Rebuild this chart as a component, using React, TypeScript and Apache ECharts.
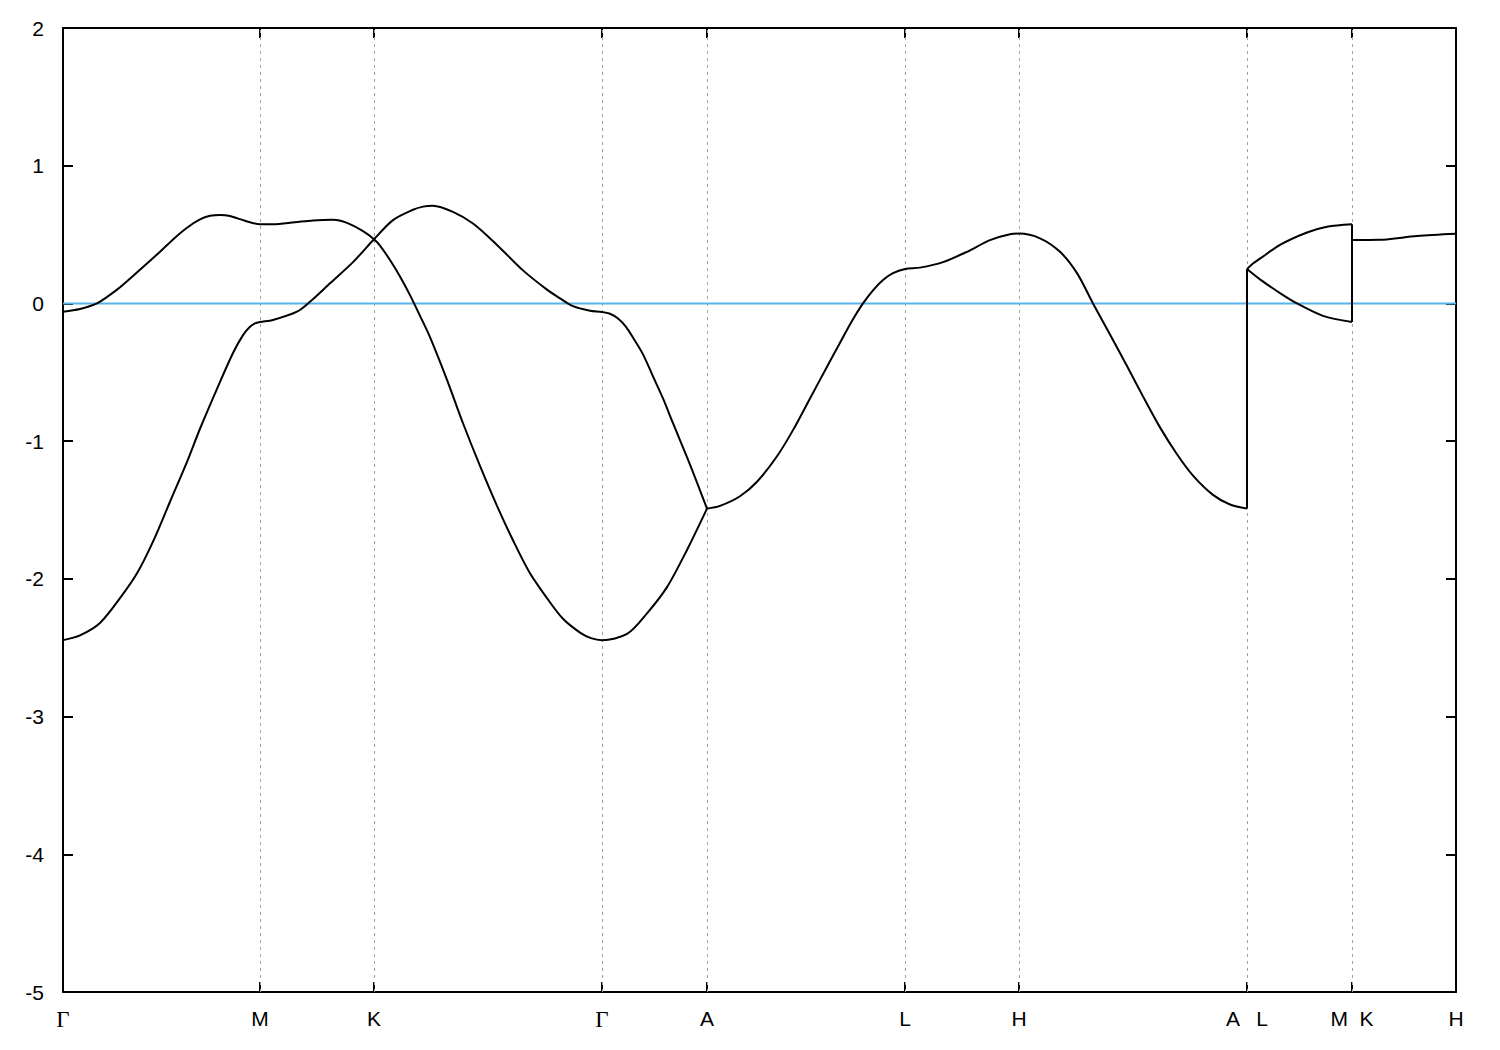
import React, { useEffect, useRef } from "react";
import * as echarts from "echarts";

// k-path positions of high-symmetry points (path-length units)
const tickPositions = [0, 197, 311, 539, 644, 842, 956, 1184, 1289, 1393];
const tickLabels = ["Γ", "M", "K", "Γ", "A", "L", "H", "A   L", "M  K", "H"];
const gridPositions = [197, 311, 539, 644, 842, 956, 1184, 1289];

const xMin = 0;
const xMax = 1393;
const yMin = -5;
const yMax = 2;
const yStep = 1;

// Energy bands, [k, E]
const band1GammaToA: [number, number][] = [
  [0, -0.06], [17, -0.04], [34, 0.0], [54, 0.1], [70, 0.2], [97, 0.375],
  [110, 0.465], [124, 0.55], [137, 0.61], [147, 0.636], [157, 0.643],
  [167, 0.635], [182, 0.6], [197, 0.575], [210, 0.575], [232, 0.59],
  [250, 0.603], [270, 0.607], [284, 0.585], [300, 0.525], [311, 0.466],
  [317, 0.42], [327, 0.315], [337, 0.195], [347, 0.06], [357, -0.09],
  [367, -0.245], [384, -0.555], [400, -0.87], [417, -1.18], [434, -1.47],
  [450, -1.72], [467, -1.96], [484, -2.14], [500, -2.29], [517, -2.39],
  [528, -2.43], [539, -2.445], [564, -2.4], [584, -2.25], [604, -2.06],
  [624, -1.79], [644, -1.49],
];

const band2GammaToA: [number, number][] = [
  [0, -2.445], [17, -2.41], [37, -2.32], [57, -2.14], [74, -1.96],
  [90, -1.73], [107, -1.44], [124, -1.15], [137, -0.91], [154, -0.62],
  [170, -0.36], [180, -0.23], [187, -0.17], [192, -0.145], [197, -0.135],
  [210, -0.12], [234, -0.06], [247, 0.012], [267, 0.146], [290, 0.3],
  [311, 0.466], [330, 0.605], [350, 0.68], [360, 0.703], [370, 0.71],
  [390, 0.665], [410, 0.58], [434, 0.425], [460, 0.24], [484, 0.1],
  [497, 0.037], [510, -0.02], [527, -0.053], [539, -0.062], [547, -0.075],
  [555, -0.11], [563, -0.17], [571, -0.26], [580, -0.37], [590, -0.53],
  [600, -0.69], [610, -0.87], [627, -1.17], [644, -1.49],
];

const bandALHA: [number, number][] = [
  [644, -1.49], [657, -1.47], [677, -1.4], [694, -1.295], [714, -1.11],
  [730, -0.92], [747, -0.69], [764, -0.46], [780, -0.245], [790, -0.115],
  [800, 0.0], [810, 0.095], [820, 0.17], [830, 0.22], [842, 0.25],
  [857, 0.26], [880, 0.3], [904, 0.375], [927, 0.46], [947, 0.503],
  [956, 0.507], [977, 0.473], [997, 0.375], [1014, 0.22], [1030, 0.0],
  [1047, -0.225], [1064, -0.455], [1080, -0.675], [1097, -0.9], [1114, -1.095],
  [1130, -1.25], [1150, -1.39], [1167, -1.46], [1184, -1.49],
];

const bandLMUpper: [number, number][] = [
  [1184, 0.25], [1190, 0.29], [1197, 0.325], [1217, 0.425], [1244, 0.515],
  [1264, 0.557], [1289, 0.575],
];

const bandLMLower: [number, number][] = [
  [1184, 0.25], [1197, 0.175], [1217, 0.075], [1234, 0.0], [1260, -0.09],
  [1289, -0.135],
];

const bandKH: [number, number][] = [
  [1289, 0.46], [1317, 0.462], [1354, 0.49], [1393, 0.506],
];

const fermiLevel: [number, number][] = [[xMin, 0], [xMax, 0]];

const last = (a: [number, number][]) => a[a.length - 1];

export default function App() {
  const ref = useRef<HTMLDivElement>(null);

  useEffect(() => {
    if (!ref.current) return;
    const chart = echarts.init(ref.current, null, { renderer: "svg" });

    const bandLine = { color: "#000", width: 2 };
    const curve = (data: [number, number][]) => ({
      type: "line",
      data,
      showSymbol: false,
      smooth: 0.3,
      lineStyle: bandLine,
      silent: true,
      z: 3,
    });
    const straight = (data: [number, number][]) => ({
      type: "line",
      data,
      showSymbol: false,
      lineStyle: bandLine,
      silent: true,
      z: 3,
    });

    const labelFor = (v: number) => {
      const i = tickPositions.findIndex((t) => Math.abs(t - v) < 0.5);
      const s = i >= 0 ? tickLabels[i] : "";
      return s === "Γ" ? "{g|Γ}" : s;
    };

    const frameLine = { show: true, lineStyle: { color: "#000", width: 2 } };
    const innerTick = { show: true, inside: true, length: 10, lineStyle: { color: "#000", width: 2 } };

    chart.setOption({
      animation: false,
      backgroundColor: "#fff",
      grid: { left: 63, right: 44, top: 28, bottom: 58, containLabel: false },
      xAxis: [
        {
          type: "value",
          min: xMin,
          max: xMax,
          position: "bottom",
          axisLine: { ...frameLine, onZero: false },
          axisTick: { ...innerTick, customValues: gridPositions },
          axisLabel: {
            show: true,
            customValues: tickPositions,
            formatter: labelFor,
            color: "#000",
            fontFamily: "Liberation Sans",
            fontSize: 21,
            margin: 16,
            showMinLabel: true,
            showMaxLabel: true,
            rich: {
              g: { fontFamily: "Liberation Serif", fontSize: 23, color: "#000" },
            },
          },
          splitLine: { show: false },
        },
        {
          type: "value",
          min: xMin,
          max: xMax,
          position: "top",
          axisLine: { ...frameLine, onZero: false },
          axisTick: { ...innerTick, customValues: gridPositions },
          axisLabel: { show: false },
          splitLine: { show: false },
        },
      ],
      yAxis: [
        {
          type: "value",
          min: yMin,
          max: yMax,
          interval: yStep,
          position: "left",
          axisLine: { ...frameLine, onZero: false },
          axisTick: innerTick,
          axisLabel: {
            color: "#000",
            fontFamily: "Liberation Sans",
            fontSize: 21,
            margin: 19,
          },
          splitLine: { show: false },
        },
        {
          type: "value",
          min: yMin,
          max: yMax,
          interval: yStep,
          position: "right",
          axisLine: { ...frameLine, onZero: false },
          axisTick: innerTick,
          axisLabel: { show: false },
          splitLine: { show: false },
        },
      ],
      series: [
        {
          type: "line",
          data: fermiLevel,
          showSymbol: false,
          lineStyle: { color: "#56B4E9", width: 2 },
          silent: true,
          z: 2,
          markLine: {
            silent: true,
            symbol: "none",
            label: { show: false },
            lineStyle: { color: "#a0a0a0", width: 1, type: [3, 4] },
            data: gridPositions.map((x) => ({ xAxis: x })),
            z: 1,
          },
        },
        curve(band1GammaToA),
        curve(band2GammaToA),
        curve(bandALHA),
        curve(bandLMUpper),
        curve(bandLMLower),
        curve(bandKH),
        straight([last(bandALHA), bandLMUpper[0]]),
        straight([last(bandLMUpper), bandKH[0]]),
        straight([last(bandLMLower), bandKH[0]]),
      ],
    });

    return () => chart.dispose();
  }, []);

  return (
    <div
      ref={ref}
      style={{ position: "fixed", left: 0, top: 0, width: 1500, height: 1050 }}
    />
  );
}
